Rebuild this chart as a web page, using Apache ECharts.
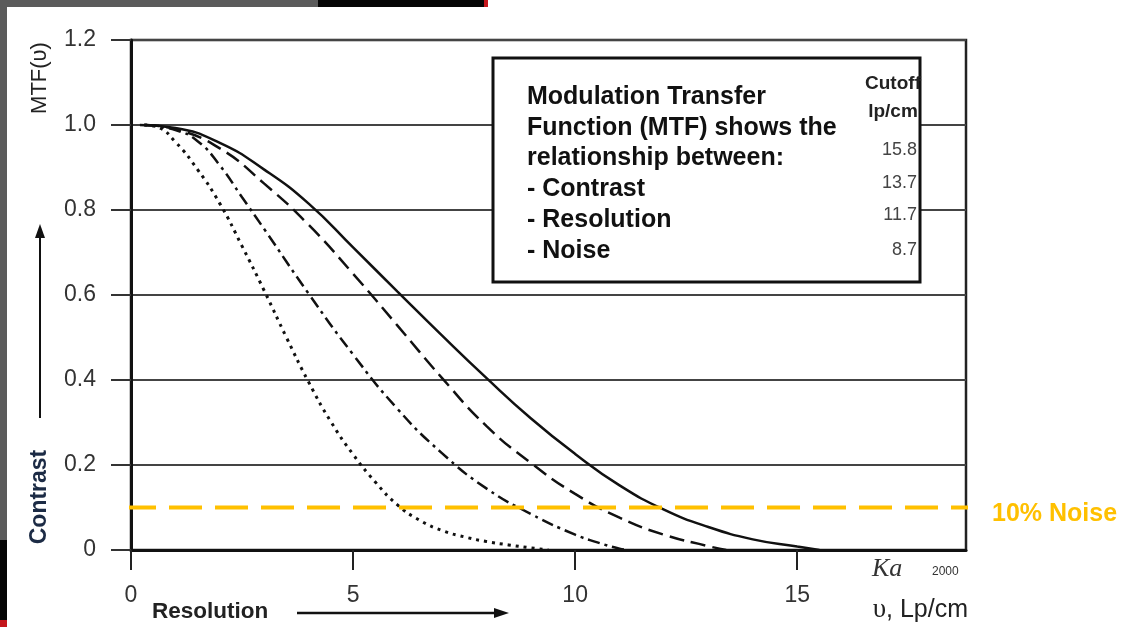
<!DOCTYPE html>
<html>
<head>
<meta charset="utf-8">
<title>Modulation Transfer Function</title>
<script src="https://cdn.jsdelivr.net/npm/echarts@6/dist/echarts.min.js"></script>
<style>
  html, body { margin: 0; padding: 0; background: #ffffff; }
  #chart { width: 1124px; height: 627px; }
</style>
</head>
<body>
<div id="chart"></div>
<script>
// MTF curves: [spatial frequency (lp/cm), modulation]
const mtfCut158 = [[0.2,1.0],[1,0.993],[2,0.958],[3,0.895],[4,0.815],[5,0.712],[6,0.608],[7,0.505],[8,0.405],[9,0.31],[10,0.226],[11,0.152],[12,0.095],[13,0.054],[14,0.025],[15,0.008],[15.5,0.0]];
const mtfCut137 = [[0.3,1.0],[1,0.99],[2,0.945],[3,0.862],[4,0.765],[5,0.65],[6,0.528],[7,0.405],[8,0.292],[9,0.205],[10,0.132],[11,0.076],[12,0.036],[13,0.009],[13.4,0.0]];
const mtfCut117 = [[0.3,1.0],[1,0.988],[1.5,0.962],[2,0.905],[2.5,0.83],[3,0.755],[4,0.603],[5,0.46],[6,0.332],[7,0.228],[8,0.145],[9,0.085],[10,0.036],[10.5,0.018],[11,0.003],[11.2,0.0]];
const mtfCut87  = [[0.3,1.0],[0.6,0.995],[1,0.96],[1.5,0.895],[2,0.815],[2.5,0.715],[3,0.61],[3.5,0.5],[4,0.395],[4.5,0.302],[5,0.225],[5.5,0.16],[6,0.106],[6.5,0.07],[7,0.046],[7.5,0.031],[8,0.02],[8.5,0.012],[9,0.005],[9.4,0.0]];

// 10 % noise threshold
const noiseLevel = 0.1;
const noiseSpan = [-0.18, 18.95];

// Axis ticks
const xTicks = [0, 5, 10, 15];
const yMax = 1.2;
const yStep = 0.2;

// Info box
const boxLines = ['Modulation Transfer', 'Function (MTF) shows the', 'relationship between:', '- Contrast', '- Resolution', '- Noise'];
const cutoffHeader = ['Cutoff', 'lp/cm'];
const cutoffs = ['15.8', '13.7', '11.7', '8.7'];

const FONT = '"Liberation Sans", Arial, Helvetica, sans-serif';
const chart = echarts.init(document.getElementById('chart'), null, { renderer: 'canvas' });

function curve(name, data, type, width) {
  return {
    name, type: 'line', data, showSymbol: false, symbol: 'none',
    smooth: 0.5, z: 3,
    lineStyle: { color: '#111', width: width || 2.5, type, cap: 'butt' }
  };
}

const boxX = 493, boxY = 58, boxW = 427, boxH = 224;
const graphics = [
  // slide edges
  { type: 'rect', shape: { x: 0, y: 0, width: 7, height: 540 }, style: { fill: '#5b5b5b' }, silent: true },
  { type: 'rect', shape: { x: 0, y: 540, width: 7, height: 80 }, style: { fill: '#050505' }, silent: true },
  { type: 'rect', shape: { x: 0, y: 620, width: 7, height: 7 }, style: { fill: '#c4161c' }, silent: true },
  { type: 'rect', shape: { x: 0, y: 0, width: 318, height: 7 }, style: { fill: '#5b5b5b' }, silent: true },
  { type: 'rect', shape: { x: 318, y: 0, width: 166, height: 7 }, style: { fill: '#050505' }, silent: true },
  { type: 'rect', shape: { x: 484, y: 0, width: 4, height: 7 }, style: { fill: '#c4161c' }, silent: true },
  // info box
  { type: 'rect', z: 10, shape: { x: boxX, y: boxY, width: boxW, height: boxH },
    style: { fill: '#ffffff', stroke: '#111', lineWidth: 3 } },
  // y axis name
  { type: 'text', z: 10, x: 40, y: 78, rotation: Math.PI / 2,
    style: { text: 'MTF(υ)', font: '22px ' + FONT, fill: '#222', align: 'center', verticalAlign: 'middle' } },
  // contrast label + arrow
  { type: 'text', z: 10, x: 40, y: 497, rotation: Math.PI / 2,
    style: { text: 'Contrast', font: 'bold 23px ' + FONT, fill: '#1c2b45', align: 'center', verticalAlign: 'middle' } },
  { type: 'line', z: 10, shape: { x1: 40, y1: 418, x2: 40, y2: 236 }, style: { stroke: '#111', lineWidth: 2 } },
  { type: 'polygon', z: 10, shape: { points: [[40, 224], [35, 238], [45, 238]] }, style: { fill: '#111' } },
  // resolution label + arrow
  { type: 'text', z: 10, x: 152, y: 612,
    style: { text: 'Resolution', font: 'bold 22.5px ' + FONT, fill: '#222', align: 'left', verticalAlign: 'middle' } },
  { type: 'line', z: 10, shape: { x1: 297, y1: 613, x2: 496, y2: 613 }, style: { stroke: '#111', lineWidth: 2.5 } },
  { type: 'polygon', z: 10, shape: { points: [[509, 613], [494, 608], [494, 618]] }, style: { fill: '#111' } },
  // x axis unit
  { type: 'text', z: 10, x: 968, y: 610,
    style: { text: '{u|υ}, Lp/cm', font: '25px ' + FONT, fill: '#222', align: 'right', verticalAlign: 'middle',
      rich: { u: { font: '27px "Liberation Serif", "DejaVu Serif", serif', fill: '#222' } } } },
  // signature
  { type: 'text', z: 10, x: 872, y: 569,
    style: { text: 'Ka', font: 'italic 26px "Liberation Serif", "DejaVu Serif", serif', fill: '#333', align: 'left', verticalAlign: 'middle' } },
  { type: 'text', z: 10, x: 932, y: 572,
    style: { text: '2000', font: '12px ' + FONT, fill: '#333', align: 'left', verticalAlign: 'middle' } }
];

boxLines.forEach((t, i) => {
  graphics.push({ type: 'text', z: 11, x: 527, y: 97 + i * 30.8,
    style: { text: t, font: 'bold 25px ' + FONT, fill: '#111', align: 'left', verticalAlign: 'middle' } });
});
cutoffHeader.forEach((t, i) => {
  graphics.push({ type: 'text', z: 11, x: 893, y: 84 + i * 28,
    style: { text: t, font: 'bold 19px ' + FONT, fill: '#222', align: 'center', verticalAlign: 'middle' } });
});
const cutoffY = [150, 183, 215, 250];
cutoffs.forEach((t, i) => {
  graphics.push({ type: 'text', z: 11, x: 917, y: cutoffY[i],
    style: { text: t, font: '18px ' + FONT, fill: '#444', align: 'right', verticalAlign: 'middle' } });
});

chart.setOption({
  animation: false,
  backgroundColor: '#ffffff',
  grid: { left: 131, right: 158, top: 40, bottom: 77, show: true, borderColor: '#222', borderWidth: 2.5, backgroundColor: 'transparent' },
  xAxis: {
    type: 'value', min: 0, max: 18.8, interval: 5,
    axisLine: { show: true, lineStyle: { color: '#111', width: 3 } },
    axisTick: { show: true, inside: false, length: 20, customValues: xTicks, lineStyle: { color: '#222', width: 2 } },
    axisLabel: { customValues: xTicks, margin: 34, fontSize: 23, fontFamily: FONT, color: '#333' },
    splitLine: { show: false }
  },
  yAxis: {
    type: 'value', min: 0, max: yMax, interval: yStep,
    axisLine: { show: true, lineStyle: { color: '#111', width: 3 } },
    axisTick: { show: true, inside: false, length: 20, lineStyle: { color: '#333', width: 2 } },
    axisLabel: { margin: 35, fontSize: 23, fontFamily: FONT, color: '#333',
      formatter: v => (v === 0 ? '0' : v.toFixed(1)) },
    splitLine: { show: true, lineStyle: { color: '#444', width: 2 } }
  },
  series: [
    curve('15.8', mtfCut158, 'solid'),
    curve('13.7', mtfCut137, [15, 7]),
    curve('11.7', mtfCut117, [12, 5, 3, 5]),
    curve('8.7', mtfCut87, [3, 5], 3),
    {
      name: '10% Noise', type: 'line', clip: false, z: 4,
      data: noiseSpan.map(x => [x, noiseLevel]),
      showSymbol: false, symbol: 'none',
      lineStyle: { color: '#FFC000', width: 4, type: [33, 13] },
      endLabel: { show: true, formatter: '10% Noise', distance: 24, offset: [0, 7], color: '#FFC000',
        fontSize: 25, fontWeight: 'bold', fontFamily: FONT }
    }
  ],
  graphic: graphics
});
</script>
</body>
</html>
